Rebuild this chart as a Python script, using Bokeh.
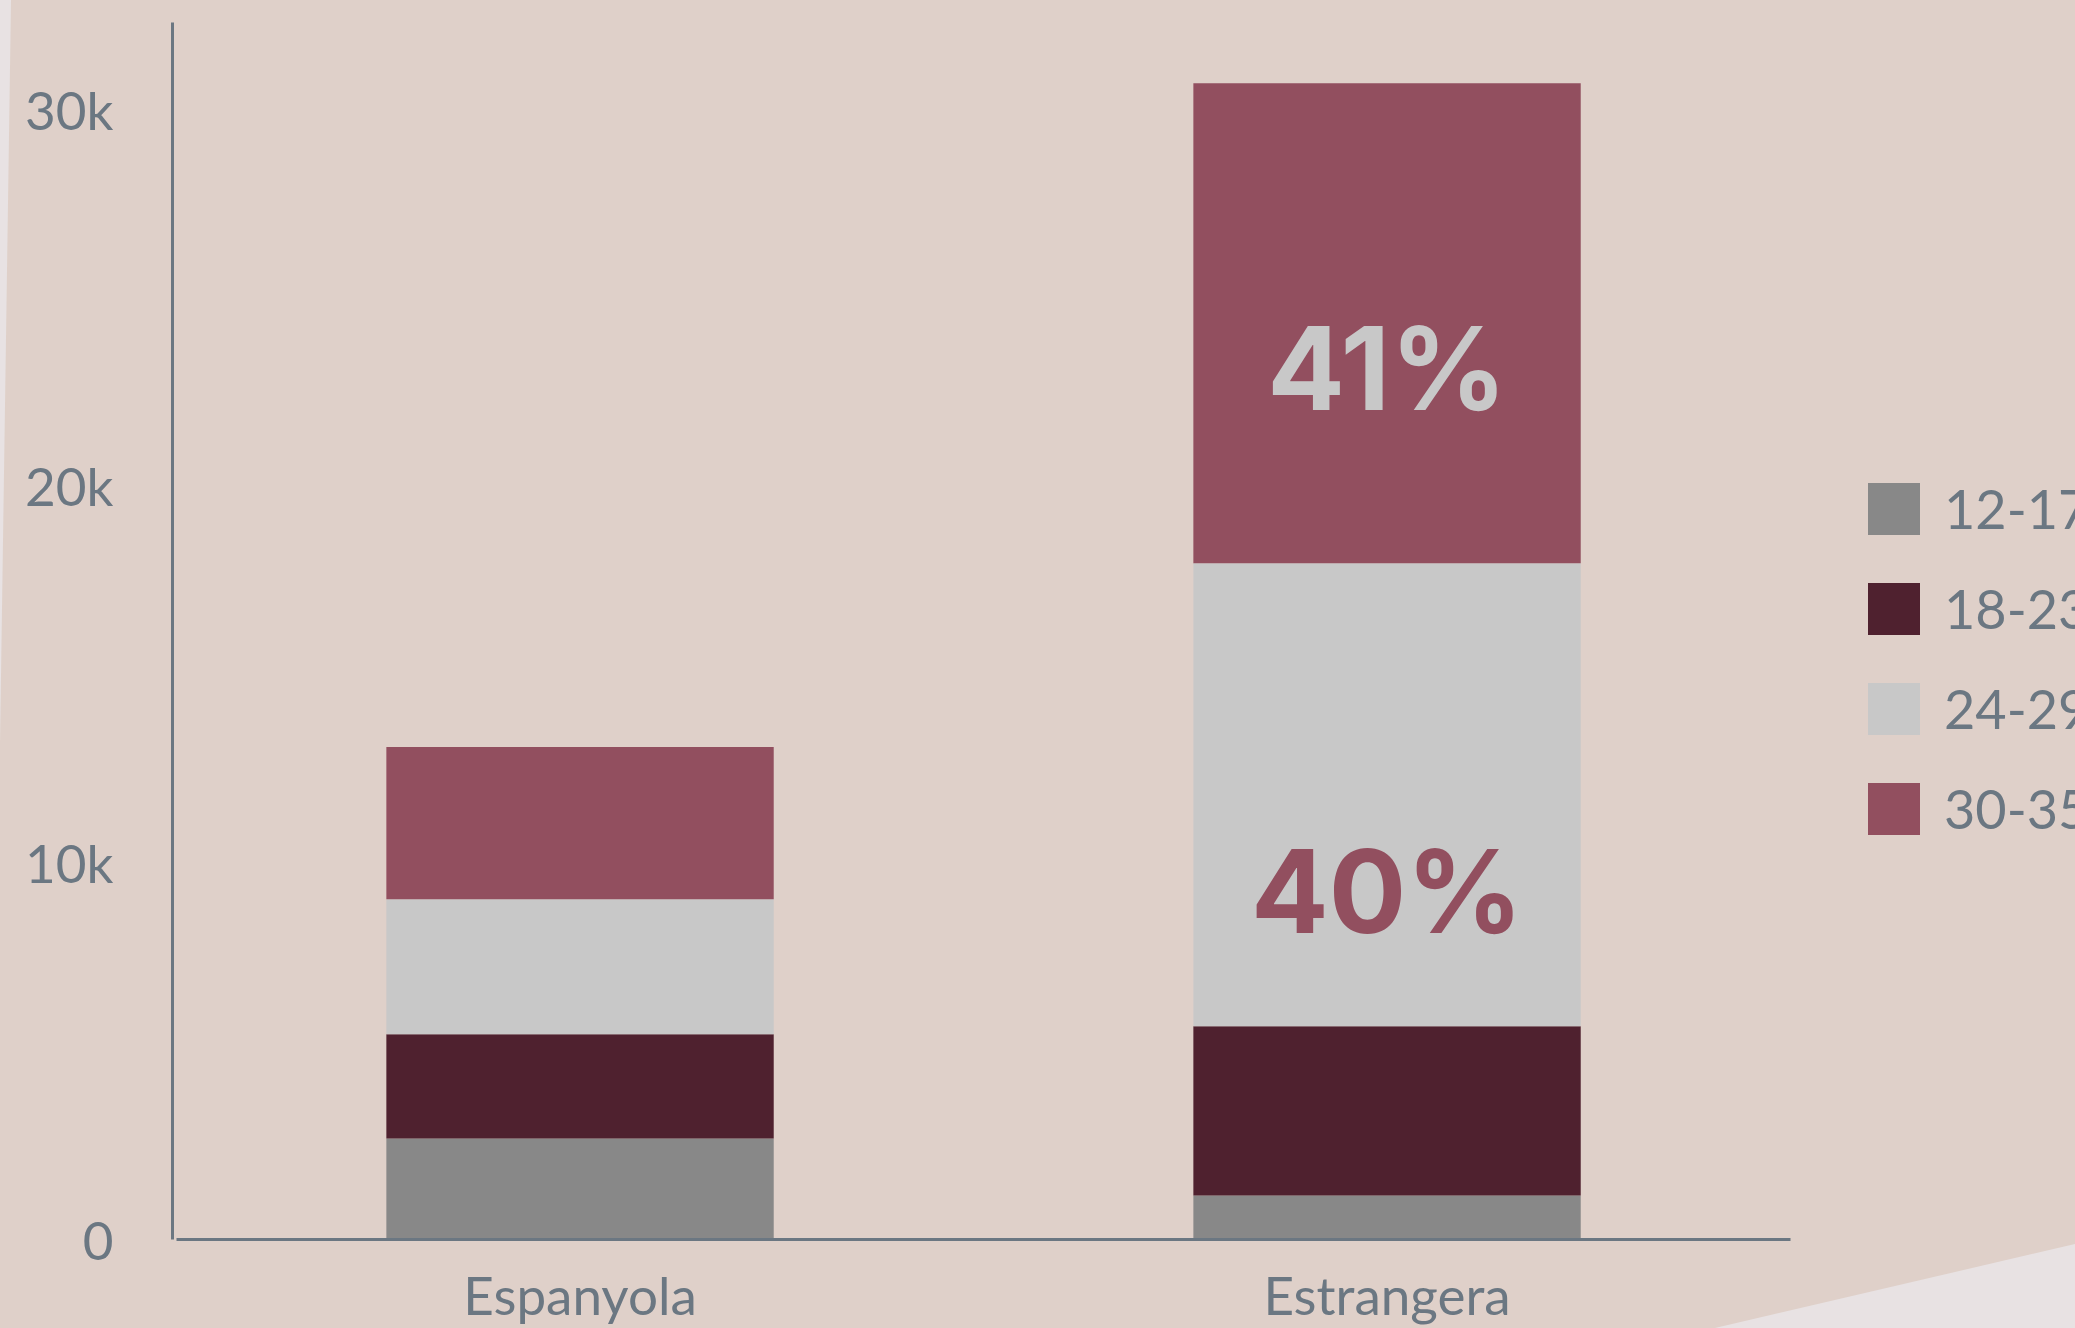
from urllib.parse import quote

from bokeh.plotting import figure
from bokeh.models import ColumnDataSource, Range1d, FixedTicker, Legend, LegendItem
from bokeh.core.properties import value
from bokeh.embed import file_html
from bokeh.resources import INLINE

# ---- data ----
categories = ["Espanyola", "Estrangera"]
age_groups = ["12-17", "18-23", "24-29", "30-35"]
v_12_17 = [2680, 1170]
v_18_23 = [2770, 4490]
v_24_29 = [3580, 12290]
v_30_35 = [4040, 12740]
y_ticks = [0, 10000, 20000, 30000]
y_tick_labels = ["0", "10k", "20k", "30k"]
pct_labels = ["41%", "40%"]          # shares of 30-35 and 24-29 in Estrangera

# ---- styles ----
colors = ["#888888", "#4F212F", "#C8C8C8", "#924F5F"]
pct_colors = ["#C8C8C8", "#924F5F"]
bg = "#DFD0C9"
light = "#E8E2E3"
ink = "#6B7782"

# category slots: each category occupies one unit, bar centred in its slot
x_pos = [i + 0.5 for i in range(len(categories))]
n_cat = len(categories)

source = ColumnDataSource({"x": x_pos, "12-17": v_12_17, "18-23": v_18_23,
                           "24-29": v_24_29, "30-35": v_30_35})

# frame runs to the right edge so the legend can sit inside it;
# the x axis line is bounded to the category slots
p = figure(x_range=Range1d(-0.005, n_cat + 0.3531), y_range=Range1d(0, 32300),
           width=2075, height=1328, output_backend="svg", toolbar_location=None,
           min_border_left=172, min_border_right=0, min_border_top=22, min_border_bottom=89)

renderers = p.vbar_stack(age_groups, x="x", width=0.48, color=colors, line_color=None, source=source)

# percentage labels placed inside their Estrangera segments
i = 1
b_30 = v_12_17[i] + v_18_23[i] + v_24_29[i]
b_24 = v_12_17[i] + v_18_23[i]
pct_src = ColumnDataSource(dict(
    x=[x_pos[i], x_pos[i]],
    y=[b_30 + 0.405 * v_30_35[i], b_24 + 0.29 * v_24_29[i]],
    text=pct_labels, color=pct_colors))
p.text(x="x", y="y", text="text", text_color="color", source=pct_src,
       text_font=value("Inter"), text_font_style="bold", text_font_size="115px",
       text_align="center", text_baseline="middle")

legend = Legend(items=[LegendItem(label=g, renderers=[r]) for g, r in zip(age_groups, renderers)],
                location=(1689, 398))
legend.background_fill_alpha = 0
legend.border_line_color = None
legend.padding = 0
legend.margin = 0
legend.glyph_width = 65
legend.glyph_height = 65
legend.label_height = 65
legend.label_standoff = 18
legend.spacing = 35
legend.label_text_font = "Lato"
legend.label_text_font_size = "54px"
legend.label_text_color = ink
p.add_layout(legend)

for ax in (p.xaxis, p.yaxis):
    ax.axis_line_color = ink
    ax.axis_line_width = 3
    ax.major_tick_line_color = None
    ax.minor_tick_line_color = None
    ax.major_label_text_font = "Lato"
    ax.major_label_text_font_size = "53px"
    ax.major_label_text_color = ink

p.xaxis.ticker = FixedTicker(ticks=x_pos)
p.xaxis.major_label_overrides = dict(zip(x_pos, categories))
p.xaxis.bounds = (0, n_cat)
p.xaxis.major_label_standoff = 17

p.yaxis.ticker = FixedTicker(ticks=y_ticks)
p.yaxis.major_label_overrides = dict(zip(y_ticks, y_tick_labels))
p.yaxis.major_label_standoff = 53

p.grid.visible = False
p.outline_line_color = None
p.background_fill_color = bg
p.border_fill_alpha = 0

deco = ("<svg xmlns='http://www.w3.org/2000/svg' width='2075' height='1328'>"
        f"<polygon points='0,0 11,0 0,743' fill='{light}'/>"
        f"<polygon points='1715,1328 2075,1244 2075,1328' fill='{light}'/></svg>")
p.styles = {"background-color": bg,
            "background-image": f'url("data:image/svg+xml;utf8,{quote(deco)}")',
            "background-repeat": "no-repeat"}

open("out.html", "w").write(file_html(p, INLINE))
